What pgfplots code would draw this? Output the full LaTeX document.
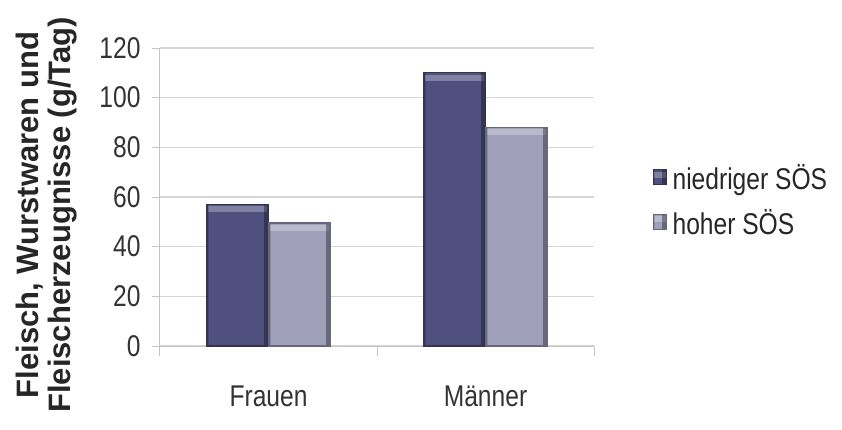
\documentclass[border=0pt]{standalone}
\usepackage{fontspec}
\setmainfont{Liberation Sans}[FakeStretch=0.82]
\newfontfamily\labelfont{Liberation Sans}
\usepackage{pgfplots}
\pgfplotsset{compat=1.18}

\definecolor{barDark}{HTML}{505080}
\definecolor{barDarkEdge}{HTML}{34344F}
\definecolor{barLight}{HTML}{A0A0BA}
\definecolor{barLightEdge}{HTML}{66667E}
\definecolor{gridGray}{HTML}{D6D6D6}
\definecolor{axisGray}{HTML}{C4C4C4}

% bevelled bar look: light band along the top, shadow on the right edge
\tikzset{
  flat/.style={path picture={}, draw=none},
  bevel/.style={
    path picture={
      \fill[flat, white, opacity=0.28]
        ([yshift=-2pt]path picture bounding box.north west) rectangle
        ([yshift=-8pt]path picture bounding box.north east);
      \fill[flat, black, opacity=0.35]
        ([xshift=-4pt]path picture bounding box.north east) rectangle
        (path picture bounding box.south east);
      \fill[flat, black, opacity=0.15]
        (path picture bounding box.north west) rectangle
        ([xshift=2pt]path picture bounding box.south west);
    }
  }
}
\pgfplotsset{
  low/.style={fill=barDark, draw=barDarkEdge, line width=1.2pt, bevel, bar shift=-31pt},
  high/.style={fill=barLight, draw=barLightEdge, line width=1.2pt, bevel, bar shift=31pt},
}

\begin{document}
\begin{tikzpicture}
\begin{axis}[
  scale only axis,
  width=434pt, height=298pt,
  ymin=0, ymax=120,
  xmin=-0.5, xmax=1.5,
  ytick={0,20,...,120},
  xtick={0,1},
  xticklabels={Frauen, M\"anner},
  ybar, bar width=61pt,
  axis lines=left,
  axis line style={-, draw=axisGray, line width=1pt},
  ymajorgrids,
  grid style={draw=gridGray, line width=1.2pt},
  tick align=outside,
  ytick style={draw=axisGray, line width=1pt},
  major tick length=8pt,
  xtick style={draw=none},
  extra x ticks={-0.5,0.5,1.5},
  extra x tick labels={},
  extra x tick style={xtick style={draw=axisGray, line width=1pt}, major tick length=10pt, xmajorgrids=false},
  /pgf/number format/assume math mode=true,
  tick label style={font=\fontsize{30}{32}\selectfont, text=black!80},
  yticklabel style={xshift=-8pt},
  xticklabel style={yshift=-28pt},
  ylabel={Fleisch, Wurstwaren und\\Fleischerzeugnisse (g/Tag)},
  every axis y label/.style={at={(rel axis cs:0,0.44)}, rotate=90, anchor=center,
    yshift=113pt, align=center,
    font=\labelfont\bfseries\fontsize{31}{32}\selectfont, text=black!85},
  legend style={at={(rel axis cs:1.135,0.49)}, anchor=west, draw=none, fill=none,
    font=\fontsize{30}{32}\selectfont, text=black!85,
    row sep=14pt, inner sep=0pt,
    nodes={inner xsep=6pt}},
  legend cell align=left,
  legend image code/.code={\draw[#1, line width=0.8pt] (0pt,-7pt) rectangle (13pt,8pt);},
]
% niedriger SÖS
\addplot[low] coordinates {(0,57)};
\addlegendentry{niedriger S\"OS}
% hoher SÖS
\addplot[high] coordinates {(0,49.5)};
\addlegendentry{hoher S\"OS}
\addplot[low, forget plot] coordinates {(1,110)};
\addplot[high, forget plot] coordinates {(1,88)};
\end{axis}
\pgfresetboundingbox
\path (current axis.south west) ++(-160pt,-83pt) rectangle ++(842pt,429pt);
\end{tikzpicture}
\end{document}
